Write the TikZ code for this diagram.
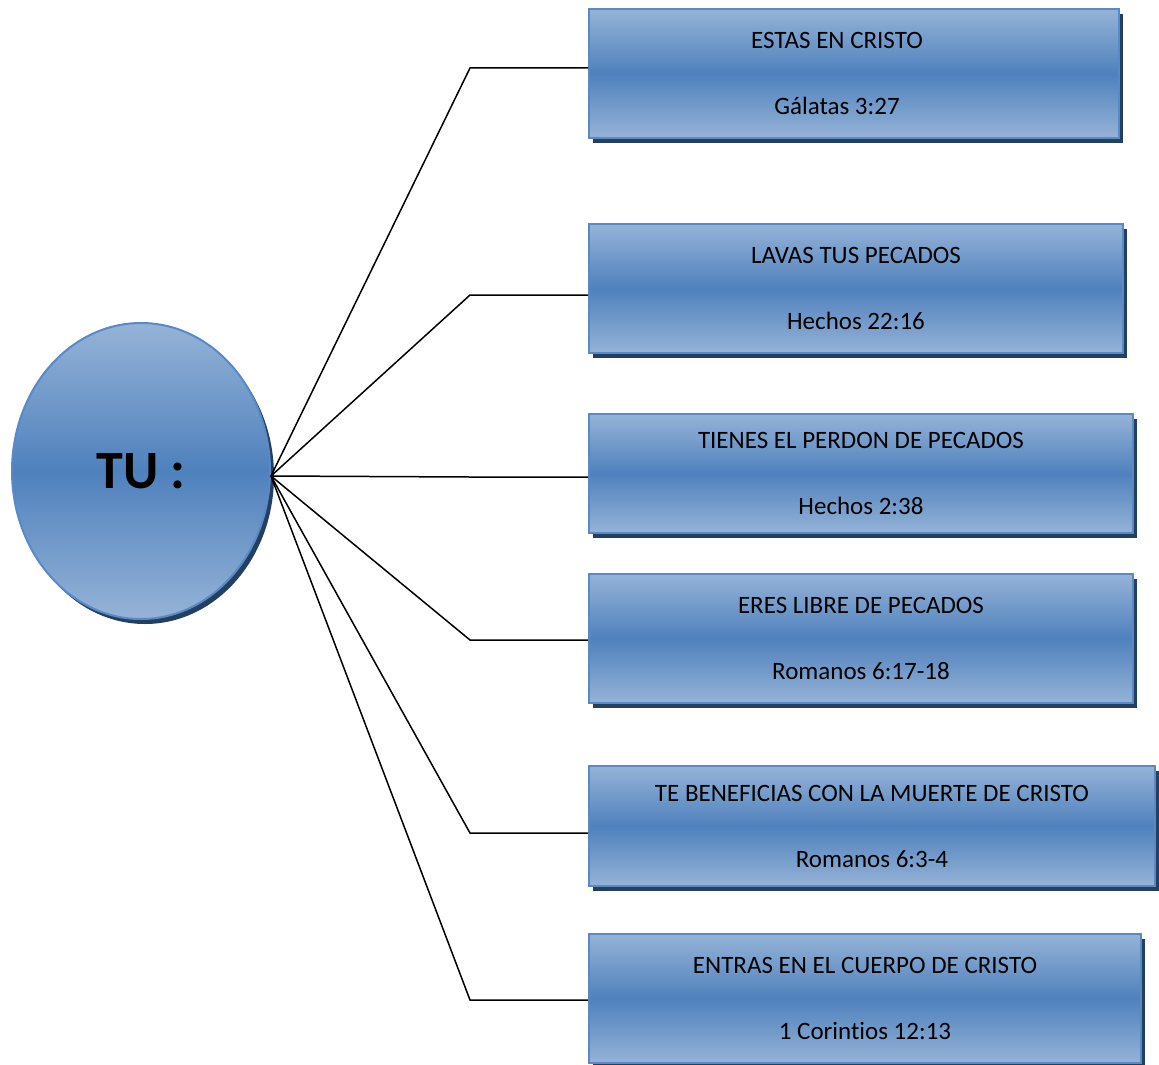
\documentclass[tikz,border=0pt]{standalone}
\usepackage{fontspec}
\setmainfont[Ligatures=NoCommon]{Carlito}
\usepackage[HTML]{xcolor}
\usepackage{tikz}
\usetikzlibrary{positioning, shapes.geometric, shadows, calc}

\definecolor{boxlight}{HTML}{95B3D7}
\definecolor{boxdark}{HTML}{4F81BD}
\definecolor{boxedge}{HTML}{5A89C5}
\definecolor{boxshadow}{HTML}{243F60}

\begin{document}
\begin{tikzpicture}[x=0.5pt, y=-0.5pt,
  blue shade/.style={draw=boxedge, line width=1pt, top color=boxlight, bottom color=boxlight, middle color=boxdark,
    drop shadow={shadow xshift=2pt, shadow yshift=-2.5pt, fill=boxshadow, opacity=1}},
  verse/.style={blue shade, anchor=north west, inner sep=0pt, align=center, font=\fontsize{12.5}{15}\selectfont},
  link/.style={line width=0.75pt, black}]

\useasboundingbox (0,0) rectangle (1159,1064);

\coordinate (bend) at (470,476); % knee of the connectors

\node[blue shade, ellipse, minimum width=129pt, minimum height=148pt, font=\fontsize{27}{32}\selectfont\bfseries] (tu) at (141,471) {TU :};
\coordinate (hub) at ([yshift=-2.5pt]tu.east);

\node[verse, minimum width=265pt, minimum height=64.5pt] (b1) at (588,8) {ESTAS EN CRISTO\kern17pt\\[18pt]Gálatas 3:27\kern17pt};
\node[verse, minimum width=267pt, minimum height=64.5pt] (b2) at (588,223) {LAVAS TUS PECADOS\\[18pt]Hechos 22:16};
\node[verse, minimum width=272pt, minimum height=59.5pt] (b3) at (588,413) {TIENES EL PERDON DE PECADOS\\[18pt]Hechos 2:38};
\node[verse, minimum width=272pt, minimum height=64.5pt] (b4) at (588,573) {ERES LIBRE DE PECADOS\\[18pt]Romanos 6:17-18};
\node[verse, minimum width=283pt, minimum height=60pt] (b5) at (588,765) {TE BENEFICIAS CON LA MUERTE DE CRISTO\\[18pt]Romanos 6:3-4};
\node[verse, minimum width=276pt, minimum height=64.5pt] (b6) at (588,933) {ENTRAS EN EL CUERPO DE CRISTO\\[18pt]1 Corintios 12:13};

% connectors, each ending a little off the box centre
\foreach \b/\dy in {b1/2.75, b2/-3.25, b3/-1.75, b4/-0.75, b5/-3.5, b6/-0.75}
  \draw[link] (hub) -- ([yshift=\dy pt]\b.west -| bend) -- ([yshift=\dy pt]\b.west);

\end{tikzpicture}
\end{document}
